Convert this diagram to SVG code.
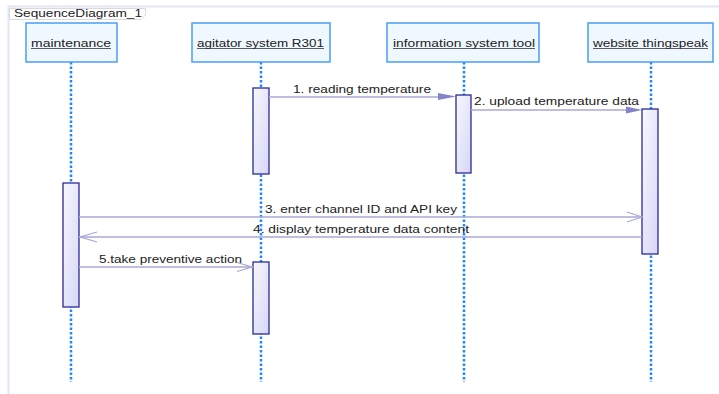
<svg xmlns="http://www.w3.org/2000/svg" width="719" height="394" viewBox="0 0 719 394">
<style>
.t{font-family:"Liberation Sans",Arial,sans-serif;font-size:10.5px;fill:#222}
.head{fill:#F0F8FF;stroke:#4A9DF5;stroke-width:1.5}
.life{stroke:#1E88FF;stroke-width:2.5;stroke-dasharray:2.5 2;fill:none}
.act{fill:url(#ag);stroke:#2A2A9A;stroke-width:1.3}
.msg{stroke:#A8A8D6;stroke-width:1.5;fill:none}
.open{stroke:#A8A8D6;stroke-width:1.2;fill:none}
.ul{stroke:#333;stroke-width:0.8}
</style>
<defs>
<linearGradient id="ag" x1="0" y1="0" x2="1" y2="1">
<stop offset="0" stop-color="#F8F8FF"/>
<stop offset="1" stop-color="#D6D6F6"/>
</linearGradient>
</defs>
<rect width="719" height="394" fill="#fff"/>
<g id="frame">
<path d="M8.5 394 V6.5 H719" fill="none" stroke="#E4E4F2" stroke-width="2"/>
<path d="M9.5 8.5 H145.5 V15 L141 19.5 H9.5 Z" fill="#fff" stroke="#D8D8E6" stroke-width="1"/>
<text class="t" x="14" y="17" textLength="128" lengthAdjust="spacingAndGlyphs">SequenceDiagram_1</text>
</g>
<g id="lifelines">
<line class="life" x1="71" y1="62" x2="71" y2="382"/>
<line class="life" x1="261" y1="62" x2="261" y2="382"/>
<line class="life" x1="464" y1="62" x2="464" y2="382"/>
<line class="life" x1="651" y1="62" x2="651" y2="382"/>
</g>
<g id="maintenance">
<rect class="head" x="26" y="23" width="91" height="39"/>
<text class="t" x="31" y="47" textLength="80" lengthAdjust="spacingAndGlyphs">maintenance</text>
<line class="ul" x1="31" y1="48.5" x2="111" y2="48.5"/>
</g>
<g id="agitator">
<rect class="head" x="192" y="23" width="138" height="39"/>
<text class="t" x="197" y="47" textLength="127" lengthAdjust="spacingAndGlyphs">agitator system R301</text>
<line class="ul" x1="197" y1="48.5" x2="324" y2="48.5"/>
</g>
<g id="information">
<rect class="head" x="387" y="23" width="152" height="39"/>
<text class="t" x="393" y="47" textLength="142" lengthAdjust="spacingAndGlyphs">information system tool</text>
<line class="ul" x1="393" y1="48.5" x2="535" y2="48.5"/>
</g>
<g id="website">
<rect class="head" x="588" y="23" width="125" height="39"/>
<text class="t" x="593" y="47" textLength="115" lengthAdjust="spacingAndGlyphs">website thingspeak</text>
<line class="ul" x1="593" y1="48.5" x2="708" y2="48.5"/>
</g>
<g id="activations">
<rect class="act" x="253" y="88" width="16" height="86"/>
<rect class="act" x="456" y="95" width="15" height="78"/>
<rect class="act" x="642" y="109" width="16" height="145"/>
<rect class="act" x="63" y="183" width="16" height="124"/>
<rect class="act" x="253" y="262" width="16" height="72"/>
</g>
<g id="connectors">
<line class="msg" x1="269" y1="97" x2="440" y2="97"/>
<path d="M438 93 L456 96.5 L438 100 Z" fill="#8484C8"/>
<text class="t" x="293" y="93" textLength="138" lengthAdjust="spacingAndGlyphs">1. reading temperature</text>
<line class="msg" x1="471" y1="110" x2="626" y2="110"/>
<path d="M626 106.5 L642 110 L626 113.5 Z" fill="#8484C8"/>
<text class="t" x="474" y="105" textLength="165" lengthAdjust="spacingAndGlyphs">2. upload temperature data</text>
<line class="msg" x1="79" y1="217" x2="642" y2="217"/>
<path class="open" d="M627 212 L642 217 L627 222"/>
<text class="t" x="265" y="213" textLength="192" lengthAdjust="spacingAndGlyphs">3. enter channel ID and API key</text>
<line class="msg" x1="642" y1="237" x2="79" y2="237"/>
<path class="open" d="M97 232 L80 237 L97 242"/>
<text class="t" x="253" y="233" textLength="216" lengthAdjust="spacingAndGlyphs">4. display temperature data content</text>
<line class="msg" x1="79" y1="267" x2="253" y2="267"/>
<path class="open" d="M237 262.5 L252 267 L237 271.5"/>
<text class="t" x="99" y="263" textLength="143" lengthAdjust="spacingAndGlyphs">5.take preventive action</text>
</g>
</svg>
